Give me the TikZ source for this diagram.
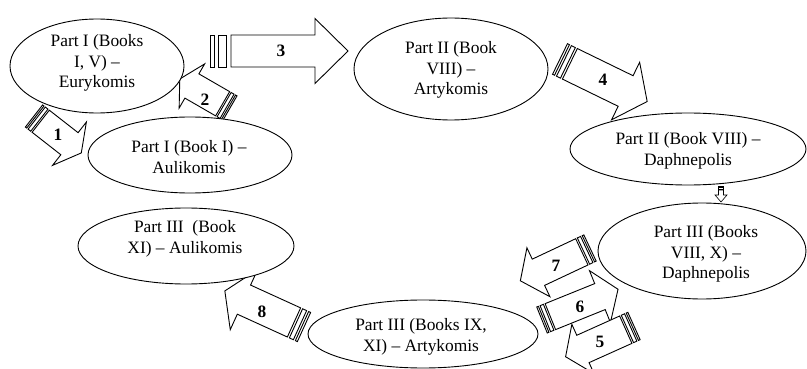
\documentclass[tikz,border=0pt]{standalone}
\usepackage{fontspec}
\setmainfont{Liberation Serif}
\usetikzlibrary{shapes.geometric}

\tikzset{
  ell/.style={draw, ellipse, fill=white, line width=0.9pt, inner sep=0pt},
  txt/.style={align=center, font=\fontsize{17.4}{20.5}\selectfont, inner sep=0pt},
  num/.style={font=\fontsize{17.4}{20.5}\selectfont\bfseries, inner sep=0pt},
  arrowline/.style={draw, fill=white, line join=miter},
}

% Striped block arrow: [scope options]{name}{tail point}{angle}{length}
% {shaft half-width}{head half-width}{head length}{stripe unit}
\newcommand{\stripedarrow}[9][]{%
  \begin{scope}[shift={#3}, rotate=#4, line width=0.9pt, #1]
    \coordinate (#2-tail) at (0,0);
    \coordinate (#2-tip) at (#5,0);
    \draw[arrowline] (0,-#6) rectangle (#9,#6);
    \draw[arrowline] (2*#9,-#6) rectangle (4*#9,#6);
    \draw[arrowline] (5*#9,-#6) -- (#5-#8,-#6) -- (#5-#8,-#7) -- (#2-tip)
      -- (#5-#8,#7) -- (#5-#8,#6) -- (5*#9,#6) -- cycle;
  \end{scope}}

\begin{document}
\begin{tikzpicture}[x=1pt, y=-1pt]
  \useasboundingbox (0,0) rectangle (807,369);

  % block arrows between the stages
  \stripedarrow{a1}{(34,116)}{-38}{60}{14}{27.5}{15}{1.7}
  \stripedarrow{a2}{(230,108)}{150}{58}{14}{25.5}{14}{1.7}
  \stripedarrow{a3}{(210,51)}{0}{138}{16}{32.5}{33}{4.2}
  \stripedarrow{a4}{(560,59)}{-26}{97}{17}{32}{24}{2.2}
  \stripedarrow[line width=0.6pt]{a0}{(721,186)}{-90}{16}{2.5}{6}{7}{0.8}
  \stripedarrow{a7}{(590,248)}{-154.8}{77}{14.5}{27}{20}{1.8}
  \stripedarrow{a6}{(542,320)}{22}{82}{14}{28}{19.5}{1.8}
  \stripedarrow{a5}{(634,326)}{-155.8}{75}{15}{27}{19}{1.8}
  \stripedarrow{a8}{(304,327)}{155.5}{87}{16}{33}{21}{2.2}

  % arrow numbers
  \node[num] (n1) at (58,135) {1};
  \node[num] (n2) at (205,100) {2};
  \node[num] (n3) at (281,51) {3};
  \node[num] (n4) at (603,80) {4};
  \node[num] (n5) at (600,342) {5};
  \node[num] (n6) at (580,307) {6};
  \node[num] (n7) at (556,266) {7};
  \node[num] (n8) at (262,312) {8};

  % stages
  \node[ell, minimum width=174pt, minimum height=94pt] (e1) at (97,66) {};
  \node[ell, minimum width=204pt, minimum height=76pt] (e2) at (190,155) {};
  \node[ell, minimum width=194pt, minimum height=102pt] (e3) at (451,69) {};
  \node[ell, minimum width=236pt, minimum height=72pt] (e4) at (688,149) {};
  \node[ell, minimum width=208pt, minimum height=96pt] (e5) at (702,251) {};
  \node[ell, minimum width=216pt, minimum height=76pt] (e6) at (186,246) {};
  \node[ell, minimum width=230pt, minimum height=68pt] (e7) at (423,334) {};

  \node[txt] (t1) at (97,63) {Part I (Books\\I, V) –\\Eurykomis};
  \node[txt] (t2) at (189,157) {Part I (Book I) –\\Aulikomis};
  \node[txt] (t3) at (451,70) {Part II (Book\\VIII) –\\Artykomis};
  \node[txt] (t4) at (688,151) {Part II (Book VIII) –\\Daphnepolis};
  \node[txt] (t5) at (706,254) {Part III (Books\\VIII, X) –\\Daphnepolis};
  \node[txt] (t6) at (185,239) {Part III\ \ (Book\\XI) – Aulikomis};
  \node[txt] (t7) at (421,337) {Part III (Books IX,\\XI) – Artykomis};
\end{tikzpicture}
\end{document}
